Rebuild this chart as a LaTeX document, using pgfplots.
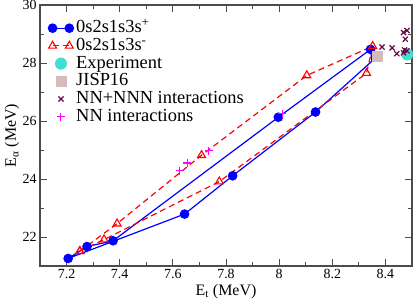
\documentclass[border=0pt]{standalone}
\usepackage{pgfplots}
\pgfplotsset{compat=1.18}
\usepackage{fontspec}
\setmainfont{Liberation Serif}
\definecolor{gblue}{RGB}{0,0,255}
\definecolor{gred}{RGB}{255,0,0}
\definecolor{gturq}{RGB}{64,224,208}
\definecolor{gmaroon}{RGB}{103,7,72}
\definecolor{gsq}{RGB}{212,188,188}
\definecolor{gmag}{RGB}{255,0,255}
\pgfplotsset{
  twoend/.style={legend image code/.code={\draw[##1] plot coordinates {(0bp,0bp) (16.7bp,0bp)};}},
  onemark/.style={legend image code/.code={\path (-4.2bp,0bp) (20.9bp,0bp);\draw[##1] plot coordinates {(8.35bp,0bp)};}},
}
\begin{document}
\begin{tikzpicture}
\begin{axis}[
  scale only axis, width=372bp, height=261bp,
  xmin=7.1, xmax=8.5, ymin=21, ymax=30,
  xtick={7.2,7.4,7.6,7.8,8,8.2,8.4}, ytick={22,24,26,28,30},
  minor x tick num=1, minor y tick num=1,
  tick align=inside, major tick length=7bp, minor tick length=4bp,
  /pgf/number format/assume math mode=true,
  tick label style={font=\fontsize{14}{14}\selectfont},
  xlabel={E\textsubscript{t} (MeV)}, ylabel={E\textsubscript{α} (MeV)},
  label style={font=\fontsize{16}{16}\selectfont},
  xlabel style={at={(axis description cs:0.5,-0.098)}, anchor=center},
  ylabel style={at={(axis description cs:-0.075,0.5)}, anchor=center},
  clip=false,
  axis line style={line width=1.2bp, black!70},
  every tick/.style={black!70, line width=0.8bp},
  legend style={at={(axis description cs:0.0,1)}, anchor=north west, draw=none, fill=none,
    xshift=6bp, yshift=-12bp,
    row sep=-0.3bp, column sep=2bp, inner sep=2bp,
    nodes={font=\fontsize{18.5}{18.5}\selectfont, text height=13bp, text depth=4bp, inner sep=0.5bp}},
  legend cell align=left,
]
\coordinate (sw) at (rel axis cs:0,0);
\coordinate (ne) at (rel axis cs:1,1);
% 0s2s1s3s+
\addplot[gblue, line width=1.2bp, mark=*, mark size=4.2bp, mark options={solid, fill=gblue},
  mark indices={1,2,3,4,5,7,8,9}, twoend]
  coordinates {
  (7.206,21.26) (7.277,21.67) (7.375,21.87) (7.997,26.13) (8.344,28.47)
  (8.349,28.06) (8.137,26.31) (7.825,24.11) (7.644,22.79) (7.206,21.26)
  };
\addlegendentry{0s2s1s3s\textsuperscript{+}}
% 0s2s1s3s-
\addplot[gred, line width=1.2bp, dash pattern=on 6bp off 4bp, mark=triangle, mark size=4.6bp,
  mark options={solid, fill=white, line width=1.1bp}, twoend]
  coordinates {
  (7.250,21.51) (7.390,22.46) (7.708,24.82) (8.104,27.57) (8.352,28.58)
  (8.329,27.65) (7.775,23.91) (7.341,21.91) (7.250,21.51)
  };
\addlegendentry{0s2s1s3s\textsuperscript{-}}
% Experiment
\addplot[only marks, mark=*, mark size=5.8bp, color=gturq, mark options={fill=gturq, draw=gturq}, onemark]
  coordinates {(8.482,28.296)};
\addlegendentry{Experiment}
% JISP16
\addplot[only marks, mark=square*, mark size=5bp, color=gsq, mark options={fill=gsq, draw=gsq}, onemark]
  coordinates {(8.368,28.25)};
\addlegendentry{JISP16}
% NN+NNN
\addplot[only marks, mark=x, mark size=3.6bp, color=gmaroon, mark options={line width=1.2bp}, onemark]
  coordinates {
  (8.387,28.55) (8.425,28.52) (8.443,28.32) (8.468,29.05) (8.481,29.12)
  (8.475,28.82) (8.472,28.45) (8.468,28.35) (8.481,28.42)
  };
\addlegendentry{NN+NNN interactions}
% NN
\addplot[only marks, mark=+, mark size=4bp, color=gmag, mark options={line width=1.1bp, draw=gmag}, onemark]
  coordinates {(7.625,24.28) (7.655,24.55) (7.735,24.97) (8.012,26.25)};
\addlegendentry{NN interactions}
\end{axis}
\pgfresetboundingbox
\path[use as bounding box] ([shift={(-40bp,-37bp)}]sw) rectangle ([shift={(3bp,5bp)}]ne);
\end{tikzpicture}
\end{document}
